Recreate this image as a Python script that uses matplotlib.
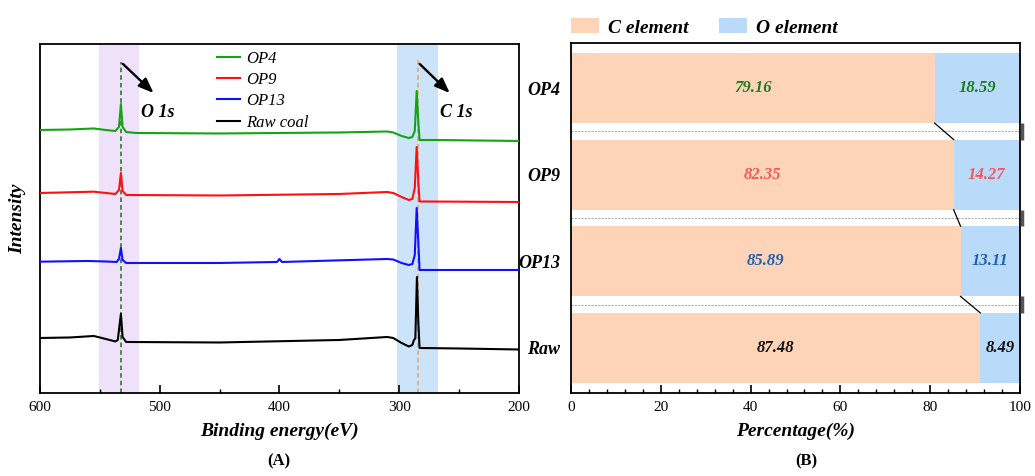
import numpy as np
import matplotlib
matplotlib.use('Agg')
import matplotlib.pyplot as plt
from matplotlib.ticker import MultipleLocator

plt.rcParams['font.family'] = ['Liberation Serif', 'DejaVu Serif']
plt.rcParams['mathtext.default'] = 'regular'

# ---- panel A: XPS survey spectra ----
energyOP4 = [600, 575, 555, 545, 537, 534, 532.4, 531, 528, 520, 450, 400, 350, 310, 305, 298, 292, 289, 287, 285.4, 284, 283, 270, 200]
intensOP4 = [263, 263.5, 264.5, 263, 262, 266, 289, 266, 261, 260, 259.5, 260, 260.5, 261.5, 260.5, 257, 255, 256, 262, 302, 270, 253, 253, 252]

energyOP9 = [600, 555, 545, 537, 534, 532.4, 531, 528, 450, 350, 310, 305, 298, 292, 289, 287, 285.4, 284, 283, 200]
intensOP9 = [200, 201.3, 200, 199, 203, 220, 202, 198, 197.5, 199, 201, 200, 196, 193, 194, 205, 246, 210, 191.5, 191]

energyOP13 = [600, 560, 545, 536, 534, 532.4, 531, 528, 450, 402, 400, 398, 310, 305, 298, 292, 289, 287, 285.4, 284, 283, 200]
intensOP13 = [131.3, 132, 131.5, 131, 134, 145, 133, 130, 130, 131, 134, 131, 134, 133.5, 130, 128, 129, 138, 185, 150, 123, 123]

energyRaw = [600, 575, 555, 545, 537, 535, 532.4, 531, 528, 450, 350, 310, 305, 298, 292, 289, 288, 286.5, 285.2, 284, 283, 250, 200]
intensRaw = [55, 55.5, 57, 54, 51.5, 53, 79, 56, 51, 50.5, 53, 56, 55, 50, 46.5, 48, 52, 55, 116, 70, 45, 44.5, 43.5]

peakO1s = 532.4
peakC1s = 284.6
bandO1s = (550.5, 517)
bandC1s = (302, 268)

# ---- panel B: element percentages ----
samples = ['OP4', 'OP9', 'OP13', 'Raw']
cElement = [79.16, 82.35, 85.89, 87.48]
oElement = [18.59, 14.27, 13.11, 8.49]
labelColors = ['#1f7a1f', '#f05a5a', '#1f5fb0', '#111111']

fig = plt.figure(figsize=(10.35, 4.76), dpi=100)

# ================= (A) =================
axA = fig.add_axes([0.0386, 0.1744, 0.4628, 0.7332])
axA.axvspan(bandO1s[0], bandO1s[1], color='#efe1fa', lw=0, zorder=0)
axA.axvspan(bandC1s[0], bandC1s[1], color='#cce4fa', lw=0, zorder=0)
axA.plot([peakO1s, peakO1s], [0, 331], color='#1f6e1f', ls=(0, (3, 2)), lw=1.1, zorder=1)
axA.plot([peakC1s, peakC1s], [0, 333], color='#f0a060', ls=(0, (3, 2)), lw=1.1, zorder=1)

axA.plot(energyOP4, intensOP4, color='#12a512', lw=1.5, label='OP4', zorder=3)
axA.plot(energyOP9, intensOP9, color='#ff1010', lw=1.5, label='OP9', zorder=3)
axA.plot(energyOP13, intensOP13, color='#1010ff', lw=1.5, label='OP13', zorder=3)
axA.plot(energyRaw, intensRaw, color='black', lw=1.5, label='Raw coal', zorder=3)

arrowStyle = dict(arrowstyle='-|>,head_length=0.9,head_width=0.35', color='black', lw=1.7)
axA.annotate('', xy=(peakO1s - 29, 298), xytext=(peakO1s, 331), arrowprops=arrowStyle)
axA.annotate('', xy=(peakC1s - 28.5, 298), xytext=(peakC1s, 331), arrowprops=arrowStyle)
axA.text(peakO1s - 17, 280, 'O 1s', fontsize=13, fontweight='bold', fontstyle='italic', va='center')
axA.text(peakC1s - 19, 280, 'C 1s', fontsize=13, fontweight='bold', fontstyle='italic', va='center')

axA.set_xlim(600, 200)
axA.set_ylim(0, 349)
axA.set_yticks([])
axA.xaxis.set_major_locator(MultipleLocator(100))
axA.xaxis.set_minor_locator(MultipleLocator(50))
axA.tick_params(axis='x', which='major', direction='in', length=6, width=1.2, labelsize=11, pad=6)
axA.tick_params(axis='x', which='minor', direction='in', length=3, width=1.0)
for s in axA.spines.values():
    s.set_linewidth(1.3)
axA.set_xlabel('Binding energy(eV)', fontsize=14, fontweight='bold', fontstyle='italic', labelpad=6)
axA.set_ylabel('Intensity', fontsize=14, fontweight='bold', fontstyle='italic', labelpad=10)
leg = axA.legend(loc='upper left', bbox_to_anchor=(0.352, 1.005), frameon=False,
                 prop={'style': 'italic', 'size': 12}, handlelength=1.4, handletextpad=0.35,
                 labelspacing=0.32, borderpad=0)

# ================= (B) =================
axB = fig.add_axes([0.5517, 0.1744, 0.4338, 0.7353])
cArr = np.array(cElement)
oArr = np.array(oElement)
total = cArr + oArr
cPct = cArr / total * 100
oPct = oArr / total * 100
ypos = np.arange(len(samples))
barH = 0.81

axB.barh(ypos, cPct, height=barH, color='#fdd4b8', label='C element', zorder=2)
axB.barh(ypos, oPct, left=cPct, height=barH, color='#b9daf9', label='O element', zorder=2)

for i in range(len(samples)):
    axB.text(cPct[i] / 2, ypos[i], f'{cElement[i]:.2f}', color=labelColors[i], fontsize=12,
             fontweight='bold', fontstyle='italic', ha='center', va='center', zorder=4)
    axB.text(cPct[i] + oPct[i] / 2, ypos[i], f'{oElement[i]:.2f}', color=labelColors[i], fontsize=12,
             fontweight='bold', fontstyle='italic', ha='center', va='center', zorder=4)

for i in range(len(samples) - 1):
    mid = ypos[i] + 0.5
    axB.axhline(mid, color='#b0b0b0', ls=(0, (2, 1)), lw=0.8, zorder=1)
    axB.plot([cPct[i], cPct[i + 1]], [ypos[i] + barH / 2, ypos[i + 1] - barH / 2],
             color='black', lw=0.9, zorder=3)
    axB.plot([100.4, 100.4], [ypos[i] + barH / 2, ypos[i + 1] - barH / 2], color='#555555',
             lw=2.5, clip_on=False, zorder=3, solid_capstyle='butt')

axB.set_xlim(0, 100)
axB.set_ylim(len(samples) - 0.5 + 0.02, -0.52)
axB.set_yticks(ypos)
axB.set_yticklabels(samples, fontsize=13, fontweight='bold', fontstyle='italic')
axB.tick_params(axis='y', length=0, pad=8)
axB.xaxis.set_major_locator(MultipleLocator(20))
axB.xaxis.set_minor_locator(MultipleLocator(4))
axB.tick_params(axis='x', which='major', direction='in', length=6, width=1.2, labelsize=11, pad=6)
axB.tick_params(axis='x', which='minor', direction='in', length=3, width=1.0)
for s in axB.spines.values():
    s.set_linewidth(1.3)
axB.set_xlabel('Percentage(%)', fontsize=14, fontweight='bold', fontstyle='italic', labelpad=6)
axB.legend(loc='lower left', bbox_to_anchor=(0.0, 1.018), ncol=2, frameon=False,
           prop={'style': 'italic', 'weight': 'bold', 'size': 14}, handlelength=1.45,
           handleheight=0.8, handletextpad=0.45, columnspacing=1.55, borderpad=0,
           borderaxespad=0)

fig.text(0.2698, 0.022, '(A)', fontsize=12, fontweight='bold', ha='center')
fig.text(0.779, 0.022, '(B)', fontsize=12, fontweight='bold', ha='center')

fig.savefig('out.png', dpi=100)
